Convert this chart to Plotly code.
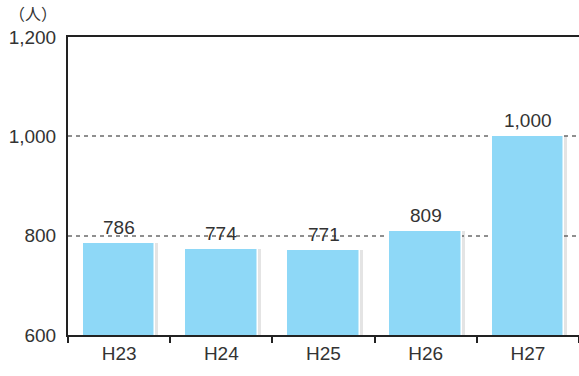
import plotly.graph_objects as go

# Yearly headcount (persons)
years = ["H23", "H24", "H25", "H26", "H27"]
counts = [786, 774, 771, 809, 1000]
y_ticks = [600, 800, 1000, 1200]
y_tick_labels = ["600", "800", "1,000", "1,200"]
unit_label = "（人）"

FONT = "Liberation Sans, Arial, sans-serif"
TEXT = "#333333"
BAR_W = 0.71
FS = 19

fig = go.Figure()

# soft drop shadow behind each bar
fig.add_trace(go.Bar(
    x=years, y=counts, width=BAR_W, offset=-BAR_W / 2 + 0.03,
    marker=dict(color="rgba(90,90,90,0.16)", line=dict(width=0)),
    hoverinfo="skip", showlegend=False,
))
# main bars
fig.add_trace(go.Bar(
    x=years, y=counts, width=BAR_W, offset=-BAR_W / 2,
    marker=dict(color="#8ED8F7", line=dict(color="white", width=1.5)),
    showlegend=False,
))

# value labels above bars
for yr, v in zip(years, counts):
    fig.add_annotation(
        x=yr, y=v, text=f"{v:,}", showarrow=False,
        yanchor="bottom", yshift=3,
        font=dict(family=FONT, size=FS, color=TEXT),
    )

# unit label above the y axis
fig.add_annotation(
    xref="paper", yref="paper", x=-0.068, y=1.0, text=unit_label,
    showarrow=False, xanchor="center", yanchor="bottom", yshift=10,
    font=dict(family="Noto Sans CJK JP", size=16, color=TEXT),
)

fig.update_layout(
    width=579, height=376,
    margin=dict(l=68, r=0, t=37, b=41),
    paper_bgcolor="white", plot_bgcolor="white",
    barmode="overlay", bargap=0,
    font=dict(family=FONT, size=FS, color=TEXT),
    xaxis=dict(
        type="category", range=[-0.5, 4.5],
        showline=True, linecolor="#222222", linewidth=2, mirror=True,
        ticks="outside", tickson="boundaries", ticklen=6, tickwidth=2,
        tickcolor="#222222", showgrid=False,
        tickfont=dict(family=FONT, size=FS, color=TEXT),
    ),
    yaxis=dict(
        range=[600, 1200], tickvals=y_ticks, ticktext=y_tick_labels,
        showline=True, linecolor="#222222", linewidth=2,
        ticks="", ticklabelstandoff=6,
        showgrid=True, gridcolor="#8f8f8f", gridwidth=1.5, griddash="4px,4px",
        zeroline=False,
        tickfont=dict(family=FONT, size=FS, color=TEXT),
    ),
)

fig.write_html("out.html")
